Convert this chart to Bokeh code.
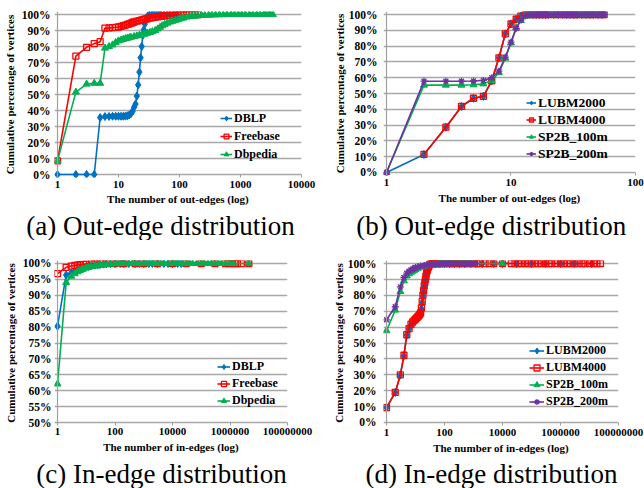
from bokeh.plotting import figure
from bokeh.models import Range1d, FixedTicker, NumeralTickFormatter, Legend, LegendItem, Span
from bokeh.core.properties import value
from bokeh.layouts import column, row
from bokeh.embed import file_html
from bokeh.resources import INLINE

# ---------------- data ----------------
# (a) out-edge distribution, real datasets
dblp_out_x = [1, 2, 3, 4, 5, 6, 7, 8, 9, 10, 11, 12, 13, 14, 15, 16, 17, 18, 19, 20, 21, 22, 23, 24, 25, 26, 27, 28,
              30, 32, 35, 38, 42, 46, 50, 56, 63, 70, 80, 90]
dblp_out_y = [0.0, 0.0, 0.0, 0.0, 0.356, 0.362, 0.363, 0.364, 0.364, 0.364, 0.364, 0.364, 0.365, 0.367, 0.372, 0.38,
              0.395, 0.42, 0.44, 0.49, 0.56, 0.64, 0.73, 0.80, 0.87, 0.905, 0.94, 0.965,
              0.99, 0.997, 1.0, 1.0, 1.0, 1.0, 1.0, 1.0, 1.0, 1.0, 1.0, 1.0]
freebase_out_x = [1, 2, 3, 4, 5, 6, 7, 8, 9, 10, 11, 12, 13, 14, 15, 16, 17, 18,
                  20, 22, 24, 26, 28, 30, 33, 36, 40, 44, 48, 52, 57, 63, 70, 77, 85, 95,
                  105, 115, 130, 145, 160, 180, 200]
freebase_out_y = [0.085, 0.74, 0.795, 0.818, 0.83, 0.915, 0.916, 0.918, 0.92, 0.922, 0.926, 0.93, 0.934, 0.938,
                  0.942, 0.946, 0.95, 0.953,
                  0.958, 0.962, 0.966, 0.969, 0.972, 0.975, 0.978, 0.981, 0.984, 0.986, 0.988, 0.99, 0.991, 0.993,
                  0.994, 0.995, 0.996, 0.997,
                  0.998, 0.9985, 0.999, 0.9995, 1.0, 1.0, 1.0]
dbpedia_out_x = [1, 2, 3, 4, 5, 6, 7, 8, 9, 10, 11, 12, 13, 14, 15, 16,
                 18, 20, 22, 24, 26, 28, 30, 33, 36, 40, 44, 48, 52, 57, 63, 70, 77, 85, 95,
                 105, 115, 130, 145, 160, 180, 200, 230, 260, 300, 340, 390, 450, 520,
                 600, 700, 800, 920, 1050, 1200, 1400, 1600, 1850, 2100, 2400, 2600, 2900, 3100, 3400]
dbpedia_out_y = [0.085, 0.515, 0.565, 0.57, 0.57, 0.79, 0.80, 0.81, 0.825, 0.835, 0.84, 0.845, 0.849, 0.852, 0.855,
                 0.858,
                 0.862, 0.866, 0.87, 0.873, 0.876, 0.88, 0.884, 0.888, 0.893, 0.90, 0.91, 0.92, 0.93, 0.938, 0.946,
                 0.953, 0.958, 0.963, 0.968,
                 0.974, 0.978, 0.984, 0.987, 0.989, 0.99, 0.992, 0.994, 0.995, 0.996, 0.997, 0.998, 0.9985, 0.999,
                 1.0, 1.0, 1.0, 1.0, 1.0, 1.0, 1.0, 1.0, 1.0, 1.0, 1.0, 1.0, 1.0, 1.0, 1.0]

# (b) out-edge distribution, synthetic datasets
lubm2000_out_x = [1, 2, 3, 4, 5, 6, 7, 8, 9, 10, 11, 12, 13, 14, 15, 16, 17, 18, 19, 20,
                  22, 24, 26, 28, 30, 32, 34, 37, 40, 43, 46, 50, 54]
lubm2000_out_y = [0.0, 0.114, 0.287, 0.418, 0.47, 0.482, 0.58, 0.726, 0.878, 0.94, 0.97, 0.99,
                  1.0, 1.0, 1.0, 1.0, 1.0, 1.0, 1.0, 1.0, 1.0, 1.0, 1.0, 1.0, 1.0, 1.0, 1.0, 1.0, 1.0, 1.0, 1.0, 1.0,
                  1.0]
lubm4000_out_x = [2, 3, 4, 5, 6, 7, 8, 9, 10, 11, 12, 13, 14, 15, 16, 17, 18, 19, 20,
                  22, 24, 26, 28, 30, 32, 34, 37, 40, 43, 46, 50, 54, 56]
lubm4000_out_y = [0.115, 0.287, 0.418, 0.47, 0.482, 0.58, 0.726, 0.878, 0.94, 0.97, 0.99,
                  1.0, 1.0, 1.0, 1.0, 1.0, 1.0, 1.0, 1.0, 1.0, 1.0, 1.0, 1.0, 1.0, 1.0, 1.0, 1.0, 1.0, 1.0, 1.0, 1.0,
                  1.0, 1.0]
sp2b100_out_x = [1, 2, 3, 4, 5, 6, 7, 8, 9, 10, 11, 12, 13, 14, 15, 16, 17, 18, 19, 20,
                 22, 24, 26, 28, 30, 32, 34, 37, 40, 43, 46, 50, 53, 56]
sp2b100_out_y = [0.0, 0.553, 0.553, 0.553, 0.555, 0.561, 0.582, 0.632, 0.724, 0.82, 0.915, 0.962, 0.99,
                 1.0, 1.0, 1.0, 1.0, 1.0, 1.0, 1.0, 1.0, 1.0, 1.0, 1.0, 1.0, 1.0, 1.0, 1.0, 1.0, 1.0, 1.0, 1.0, 1.0,
                 1.0]
sp2b200_out_x = [1, 2, 3, 4, 5, 6, 7, 8, 9, 10, 11, 12, 13, 14, 15, 16, 17, 18, 19, 20,
                 22, 24, 26, 28, 30, 32, 34, 37, 40, 43, 46, 50, 53, 56]
sp2b200_out_y = [0.0, 0.578, 0.578, 0.578, 0.579, 0.583, 0.60, 0.641, 0.73, 0.825, 0.912, 0.965, 0.99,
                 1.0, 1.0, 1.0, 1.0, 1.0, 1.0, 1.0, 1.0, 1.0, 1.0, 1.0, 1.0, 1.0, 1.0, 1.0, 1.0, 1.0, 1.0, 1.0, 1.0,
                 1.0]

# (c) in-edge distribution, real datasets
dblp_in_x = [1, 2, 3, 4, 5, 6, 7, 8, 10, 12, 15, 20, 25, 30, 40, 50, 70, 100,
             150, 200, 300, 500, 700, 1000, 1500, 2000, 3000, 5000, 7000, 10000, 15000, 20000]
dblp_in_y = [0.803, 0.964, 0.97, 0.975, 0.979, 0.982, 0.984, 0.986, 0.989, 0.991, 0.993, 0.995, 0.996, 0.997, 0.998,
             0.9985, 0.999, 0.9995,
             1.0, 1.0, 1.0, 1.0, 1.0, 1.0, 1.0, 1.0, 1.0, 1.0, 1.0, 1.0, 1.0, 1.0]
freebase_in_x = [1, 2, 3, 4, 5, 6, 8, 10, 15, 20, 30, 50,
                 100, 200, 500, 1000, 3000, 10000, 30000, 100000, 300000, 700000, 900000, 1200000, 1500000,
                 1800000, 2500000, 4500000]
freebase_in_y = [0.968, 0.988, 0.992, 0.994, 0.995, 0.996, 0.997, 0.998, 0.999, 0.9993, 0.9996, 0.9999,
                 1.0, 1.0, 1.0, 1.0, 1.0, 1.0, 1.0, 1.0, 1.0, 1.0, 1.0, 1.0, 1.0, 1.0, 1.0, 1.0]
dbpedia_in_x = [1, 2, 3, 4, 5, 6, 7, 8, 10, 12, 15, 20, 25, 30, 40, 50, 70, 100,
                130, 170, 220, 300, 400, 500, 700, 1000, 1300, 1700, 2200, 3000, 4000, 5000, 7000,
                10000, 13000, 17000, 22000, 30000, 40000, 50000, 70000,
                100000, 130000, 170000, 220000, 300000, 400000, 500000, 700000, 1000000, 1300000, 4500000]
dbpedia_in_y = [0.621, 0.94, 0.96, 0.968, 0.974, 0.978, 0.981, 0.983, 0.986, 0.988, 0.99, 0.992, 0.993, 0.994,
                0.996, 0.997, 0.998, 0.999,
                1.0, 1.0, 1.0, 1.0, 1.0, 1.0, 1.0, 1.0, 1.0, 1.0, 1.0, 1.0, 1.0, 1.0, 1.0,
                1.0, 1.0, 1.0, 1.0, 1.0, 1.0, 1.0, 1.0,
                1.0, 1.0, 1.0, 1.0, 1.0, 1.0, 1.0, 1.0, 1.0, 1.0, 1.0]

# (d) in-edge distribution, synthetic datasets
lubm2000_in_x = [1, 2, 3, 4, 5, 6, 7, 8, 9, 10, 11, 12, 13, 14, 15, 16, 17, 18, 19, 20, 21, 22, 23, 24, 25, 26, 27, 28,
                 30, 32, 34, 40, 50, 70, 100, 150, 220, 330, 500, 800, 1200, 2000, 5000, 10000, 30000, 100000,
                 300000, 1000000, 3000000, 12000000]
lubm2000_in_y = [0.093, 0.188, 0.298, 0.42, 0.55, 0.588, 0.616, 0.63, 0.64, 0.648, 0.656, 0.663, 0.67, 0.678, 0.688,
                 0.715, 0.755, 0.795, 0.825, 0.855, 0.878, 0.898, 0.918, 0.938, 0.953, 0.963, 0.973, 0.978,
                 0.988, 0.994, 1.0, 1.0, 1.0, 1.0, 1.0, 1.0, 1.0, 1.0, 1.0, 1.0, 1.0, 1.0, 1.0, 1.0, 1.0, 1.0,
                 1.0, 1.0, 1.0, 1.0]
lubm4000_in_x = [1, 2, 3, 4, 5, 6, 7, 8, 9, 10, 11, 12, 13, 14, 15, 16, 17, 18, 19, 20, 21, 22, 23, 24, 25, 26, 27, 28,
                 30, 32, 34, 37, 40, 45, 50, 60, 70, 80,
                 100, 120, 150, 180, 220, 270, 330, 400, 500, 600, 800,
                 1000, 1300, 1700, 2500, 3500, 5000,
                 10000, 20000, 27000, 35000, 45000, 60000, 80000,
                 100000, 130000, 170000, 220000, 300000, 400000, 500000, 700000,
                 1000000, 1300000, 1700000, 2200000, 3000000, 4000000, 5500000, 7000000,
                 10000000, 14000000, 18000000, 24000000]
lubm4000_in_y = [0.094, 0.189, 0.30, 0.423, 0.552, 0.59, 0.618, 0.632, 0.642, 0.65, 0.658, 0.665, 0.672, 0.68, 0.69,
                 0.72, 0.76, 0.80, 0.83, 0.86, 0.88, 0.90, 0.92, 0.94, 0.955, 0.965, 0.975, 0.98,
                 0.99, 0.995, 1.0, 1.0, 1.0, 1.0, 1.0, 1.0, 1.0, 1.0,
                 1.0, 1.0, 1.0, 1.0, 1.0, 1.0, 1.0, 1.0, 1.0, 1.0, 1.0,
                 1.0, 1.0, 1.0, 1.0, 1.0, 1.0,
                 1.0, 1.0, 1.0, 1.0, 1.0, 1.0, 1.0,
                 1.0, 1.0, 1.0, 1.0, 1.0, 1.0, 1.0, 1.0,
                 1.0, 1.0, 1.0, 1.0, 1.0, 1.0, 1.0, 1.0,
                 1.0, 1.0, 1.0, 1.0]
sp2b100_in_x = [1, 2, 3, 4, 5, 6, 7, 8, 9, 10, 12, 15, 20, 25, 30, 35, 40, 50, 60, 70, 85, 100,
                120, 140, 170, 200, 240, 280, 330, 400, 470, 550, 650, 800, 1000, 10000]
sp2b100_in_y = [0.577, 0.707, 0.824, 0.891, 0.922, 0.935, 0.945, 0.952, 0.958, 0.963, 0.97, 0.977, 0.983, 0.987,
                0.99, 0.992, 0.993, 0.995, 0.996, 0.997, 0.998, 0.999,
                1.0, 1.0, 1.0, 1.0, 1.0, 1.0, 1.0, 1.0, 1.0, 1.0, 1.0, 1.0, 1.0, 1.0]
sp2b200_in_x = [1, 2, 3, 4, 5, 6, 7, 8, 9, 10, 12, 15, 20, 25, 30, 35, 40, 50, 60, 70, 85, 100,
                120, 140, 170, 200, 240, 280, 330, 400, 470, 550, 650, 800, 1000, 1150]
sp2b200_in_y = [0.646, 0.728, 0.853, 0.912, 0.939, 0.952, 0.96, 0.965, 0.97, 0.974, 0.979, 0.984, 0.988, 0.991,
                0.993, 0.994, 0.995, 0.997, 0.9975, 0.998, 0.9985, 0.999,
                1.0, 1.0, 1.0, 1.0, 1.0, 1.0, 1.0, 1.0, 1.0, 1.0, 1.0, 1.0, 1.0, 1.0]

# axis ticks / labels
x_ticks_a = [1, 10, 100, 1000, 10000]
x_ticks_b = [1, 10, 100]
x_ticks_cd = [1, 100, 10000, 1000000, 100000000]
y_ticks_full = [0.0, 0.1, 0.2, 0.3, 0.4, 0.5, 0.6, 0.7, 0.8, 0.9, 1.0]
y_ticks_half = [0.5, 0.55, 0.6, 0.65, 0.7, 0.75, 0.8, 0.85, 0.9, 0.95, 1.0]

y_title = "Cumulative percentage of vertices"
x_title_out = "The number of out-edges (log)"
x_title_in = "The number of in-edges (log)"

captions = ["(a) Out-edge distribution", "(b) Out-edge distribution",
            "(c) In-edge distribution", "(d) In-edge distribution"]

# ---------------- style ----------------
BLUE, RED, GREEN, PURPLE = "#0070C0", "#FF0000", "#00B050", "#7030A0"
GRID = "#A8A8A8"
AXIS = "#A0A0A0"
FONT = "Liberation Serif"


def add_series(p, xs, ys, color, marker):
    lr = p.line(xs, ys, line_color=color, line_width=1.6)
    if marker == "square":
        sr = p.scatter(xs, ys, marker="square", size=6, line_color=color, line_width=1.3, fill_color=None)
    elif marker == "asterisk":
        sr = p.scatter(xs, ys, marker="asterisk", size=7, line_color=color, line_width=1.3)
    elif marker == "diamond":
        sr = p.scatter(xs, ys, marker="diamond", size=8, line_color=color, fill_color=color, line_width=1)
    else:
        sr = p.scatter(xs, ys, marker="triangle", size=7, line_color=color, fill_color=color, line_width=1)
    return [lr, sr]


def style_text(obj, prefix, size, style="bold"):
    setattr(obj, prefix + "_text_font", FONT)
    setattr(obj, prefix + "_text_font_size", size)
    setattr(obj, prefix + "_text_font_style", style)
    setattr(obj, prefix + "_text_color", "black")


def make_panel(cfg, series, x_ticks, y_ticks, x_title):
    p = figure(frame_width=cfg["fw"], frame_height=cfg["fh"], x_axis_type="log",
               x_range=Range1d(cfg["x0"], cfg["x1"]), y_range=Range1d(cfg["y0"], cfg["y1"]),
               output_backend="svg", toolbar_location=None, title_location=None,
               min_border_left=cfg["bl"], min_border_right=cfg["br"],
               min_border_top=cfg["bt"], min_border_bottom=cfg["bb"])
    p.outline_line_color = None
    p.background_fill_color = "white"
    p.border_fill_color = "white"

    xa = p.xaxis[0]
    xa.ticker = FixedTicker(ticks=x_ticks)
    xa.formatter = NumeralTickFormatter(format="0")
    xa.axis_line_color = None
    xa.major_tick_line_color = AXIS
    xa.major_tick_out = 0
    xa.major_tick_in = 3
    xa.minor_tick_out = 0
    xa.minor_tick_in = 0
    xa.major_label_standoff = cfg["xstand"]
    style_text(xa, "major_label", "11px")
    xa.axis_label = x_title
    style_text(xa, "axis_label", "11px")
    xa.axis_label_standoff = cfg["xlstand"]

    ya = p.yaxis[0]
    ya.ticker = FixedTicker(ticks=y_ticks)
    ya.formatter = NumeralTickFormatter(format="0%")
    ya.axis_line_color = None
    ya.major_tick_out = 0
    ya.major_tick_in = 0
    ya.minor_tick_out = 0
    ya.minor_tick_in = 0
    ya.major_label_standoff = cfg["ystand"]
    style_text(ya, "major_label", "11.5px")
    ya.axis_label = y_title
    style_text(ya, "axis_label", "11px")
    ya.axis_label_standoff = cfg["ylstand"]

    p.xgrid.visible = False
    p.ygrid.ticker = FixedTicker(ticks=y_ticks)
    p.ygrid.grid_line_color = GRID
    p.ygrid.grid_line_width = 1.4

    # vertical value axis line crossing at x = 1
    p.add_layout(Span(location=x_ticks[0], dimension="height", line_color=AXIS, line_width=1.2))

    items = []
    for name, xs, ys, color, marker in series:
        rs = add_series(p, xs, ys, color, marker)
        items.append(LegendItem(label=name, renderers=rs))
    leg = Legend(items=items, location=cfg["loc"], background_fill_alpha=0, border_line_color=None,
                 padding=0, margin=0, spacing=0, glyph_width=cfg["gw"], glyph_height=cfg["lh"],
                 label_height=cfg["lh"], label_standoff=2)
    style_text(leg, "label", cfg["lfs"])
    p.add_layout(leg)
    return p


def make_caption(text, w, h, cx, cy):
    c = figure(frame_width=w, frame_height=h, x_range=Range1d(0, w), y_range=Range1d(0, h),
               output_backend="svg", toolbar_location=None, title_location=None,
               x_axis_location=None, y_axis_location=None,
               min_border_left=0, min_border_right=0, min_border_top=0, min_border_bottom=0)
    c.outline_line_color = None
    c.background_fill_color = "white"
    c.border_fill_color = "white"
    c.grid.visible = False
    c.text(x=[cx], y=[cy], text=[text], text_font=value(FONT), text_font_size=value("27px"),
           text_font_style="normal", text_color="black", text_align="center", text_baseline="middle")
    return c


cfg_a = dict(fw=247, fh=166, x0=0.893, x1=10000.5, y0=-0.01875, y1=1.01875, bl=54, br=21, bt=8, bb=34,
             xstand=3, xlstand=2, ystand=4, ylstand=3, loc=(166, 14), gw=12, lh=18, lfs="12px")
cfg_b = dict(fw=252, fh=164, x0=0.946, x1=100.01, y0=-0.019, y1=1.019, bl=61, br=9, bt=11, bb=33,
             xstand=3, xlstand=3, ystand=6, ylstand=0, loc=(143, 13), gw=10, lh=17, lfs="13.5px")
cfg_c = dict(fw=233, fh=165, x0=0.786, x1=100000001, y0=0.49057, y1=1.00943, bl=54, br=35, bt=20, bb=32,
             xstand=2, xlstand=3, ystand=3, ylstand=3, loc=(163, 16), gw=13, lh=17, lfs="12px")
cfg_d = dict(fw=235, fh=165, x0=0.788, x1=100000001, y0=-0.019, y1=1.019, bl=61, br=26, bt=18, bb=34,
             xstand=3, xlstand=3, ystand=7, ylstand=0, loc=(146, 15), gw=15, lh=17, lfs="12px")

pa = make_panel(cfg_a, [
    ("DBLP", dblp_out_x, dblp_out_y, BLUE, "diamond"),
    ("Freebase", freebase_out_x, freebase_out_y, RED, "square"),
    ("Dbpedia", dbpedia_out_x, dbpedia_out_y, GREEN, "triangle"),
], x_ticks_a, y_ticks_full, x_title_out)

pb = make_panel(cfg_b, [
    ("LUBM2000", lubm2000_out_x, lubm2000_out_y, BLUE, "diamond"),
    ("LUBM4000", lubm4000_out_x, lubm4000_out_y, RED, "square"),
    ("SP2B_100m", sp2b100_out_x, sp2b100_out_y, GREEN, "triangle"),
    ("SP2B_200m", sp2b200_out_x, sp2b200_out_y, PURPLE, "asterisk"),
], x_ticks_b, y_ticks_full, x_title_out)

pc = make_panel(cfg_c, [
    ("DBLP", dblp_in_x, dblp_in_y, BLUE, "diamond"),
    ("Freebase", freebase_in_x, freebase_in_y, RED, "square"),
    ("Dbpedia", dbpedia_in_x, dbpedia_in_y, GREEN, "triangle"),
], x_ticks_cd, y_ticks_half, x_title_in)

pd_ = make_panel(cfg_d, [
    ("LUBM2000", lubm2000_in_x, lubm2000_in_y, BLUE, "diamond"),
    ("LUBM4000", lubm4000_in_x, lubm4000_in_y, RED, "square"),
    ("SP2B_100m", sp2b100_in_x, sp2b100_in_y, GREEN, "triangle"),
    ("SP2B_200m", sp2b200_in_x, sp2b200_in_y, PURPLE, "asterisk"),
], x_ticks_cd, y_ticks_full, x_title_in)

cap_a = make_caption(captions[0], 322, 32, 160, 14.5)
cap_b = make_caption(captions[1], 322, 32, 168.8, 15)
cap_c = make_caption(captions[2], 322, 31, 161, 14.5)
cap_d = make_caption(captions[3], 322, 31, 169, 14.5)

layout = column(
    row(pa, pb, spacing=0),
    row(cap_a, cap_b, spacing=0),
    row(pc, pd_, spacing=0),
    row(cap_c, cap_d, spacing=0),
    spacing=0,
)

open("out.html", "w").write(file_html(layout, INLINE))
